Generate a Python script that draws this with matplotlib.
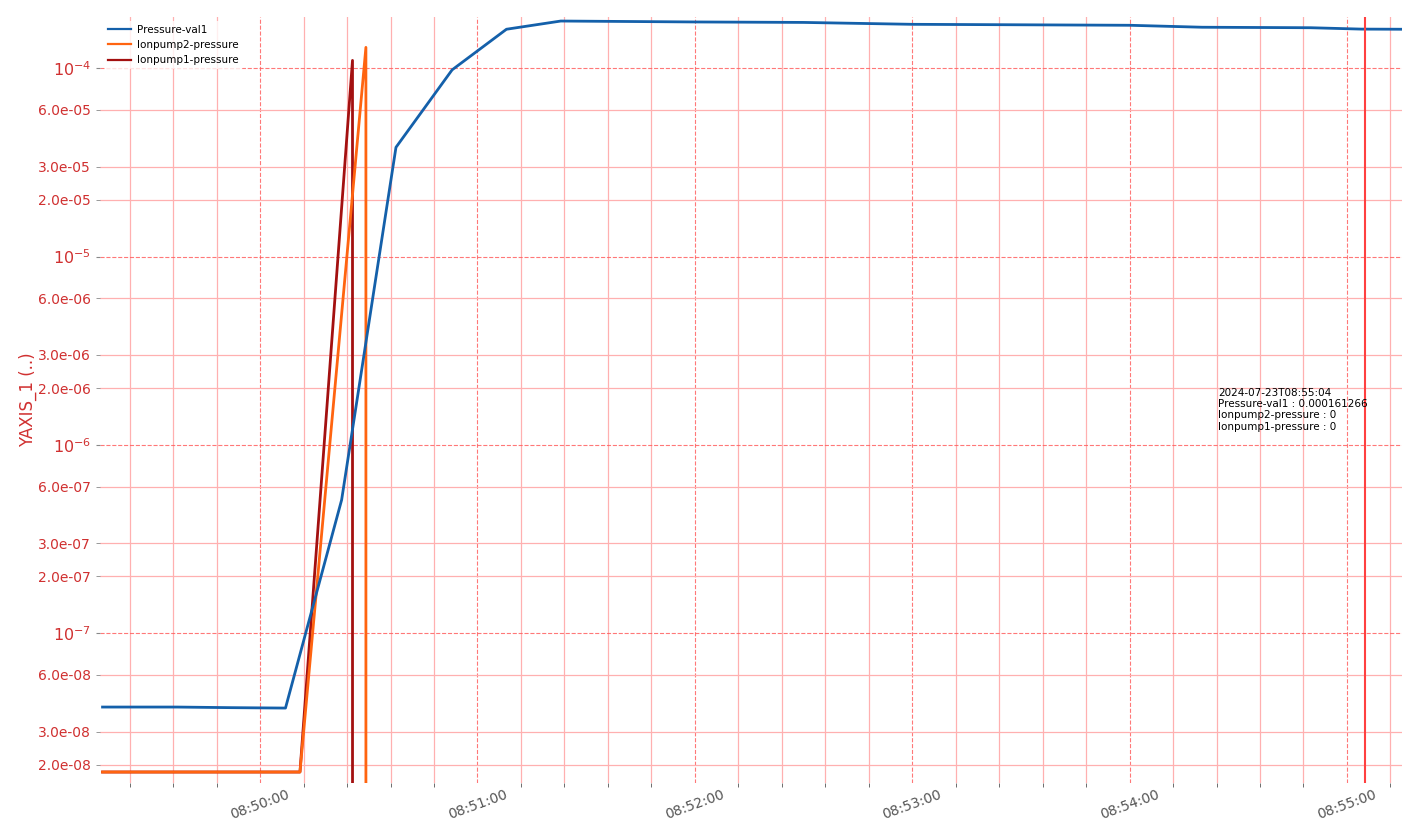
import matplotlib
matplotlib.use('Agg')
import matplotlib.pyplot as plt
import matplotlib.dates as mdates
from matplotlib.ticker import FuncFormatter, LogLocator, LogFormatterSciNotation
import pandas as pd

DAY = "2024-07-23 "

# ----------------- Data -----------------
pressure_times = ["08:49:16.5", "08:49:37", "08:49:52", "08:50:07", "08:50:22.5", "08:50:37.5",
                  "08:50:53", "08:51:08", "08:51:23", "08:52:00", "08:52:30", "08:53:00",
                  "08:53:30", "08:54:00", "08:54:20", "08:54:50", "08:55:04", "08:55:15"]
pressure_vals = [4.05e-8, 4.05e-8, 4.02e-8, 4.0e-8, 5.1e-7, 3.8e-5,
                 9.8e-5, 1.61e-4, 1.78e-4, 1.76e-4, 1.75e-4, 1.71e-4,
                 1.70e-4, 1.69e-4, 1.65e-4, 1.64e-4, 1.61266e-4, 1.61e-4]

ionpump2_times = ["08:49:16.5", "08:50:11", "08:50:29.2", "08:50:30", "08:55:15"]
ionpump2_vals = [1.83e-8, 1.83e-8, 1.29e-4, 0.0, 0.0]

ionpump1_times = ["08:49:16.5", "08:50:11", "08:50:25.5", "08:50:26.5", "08:55:15"]
ionpump1_vals = [1.83e-8, 1.83e-8, 1.10e-4, 0.0, 0.0]

cursor_time = "08:55:05"
cursor_label = ["2024-07-23T08:55:04",
                "Pressure-val1 : 0.000161266",
                "Ionpump2-pressure : 0",
                "Ionpump1-pressure : 0"]

x_range = ["08:49:15.8", "08:55:15.2"]
y_range = [1.6e-8, 1.87e-4]


def to_dt(ts):
    return pd.to_datetime([DAY + t for t in ts], format='mixed')


# ----------------- Figure -----------------
fig = plt.figure(figsize=(14.02, 8.34), dpi=100)
ax = fig.add_axes([100 / 1402, 1 - 783 / 834, 1 - 100 / 1402, (783 - 17) / 834])

ax.plot(to_dt(pressure_times), pressure_vals, color='#1460aa', lw=2, label='Pressure-val1', zorder=4)
ax.plot(to_dt(ionpump2_times), ionpump2_vals, color='#ff6410', lw=2, label='Ionpump2-pressure', zorder=3.5)
ax.plot(to_dt(ionpump1_times), ionpump1_vals, color='#a31010', lw=2, label='Ionpump1-pressure', zorder=3)

ax.axvline(to_dt([cursor_time])[0], color='#ff4040', lw=1.5, zorder=5)

ax.set_yscale('log')
ax.set_xlim(to_dt(x_range))
ax.set_ylim(y_range)

# ticks
ax.xaxis.set_major_locator(mdates.MinuteLocator())
ax.xaxis.set_major_formatter(mdates.DateFormatter('%H:%M:%S'))
ax.xaxis.set_minor_locator(mdates.SecondLocator(bysecond=range(0, 60, 12)))
ax.yaxis.set_major_locator(LogLocator(base=10))
ax.yaxis.set_major_formatter(LogFormatterSciNotation())
ax.yaxis.set_minor_locator(LogLocator(base=10, subs=[2, 3, 6]))
ax.yaxis.set_minor_formatter(FuncFormatter(lambda v, p: f"{v:.1e}"))

for lab in ax.get_xticklabels():
    lab.set_rotation(20)
ax.tick_params(axis='x', which='both', colors='#555555', labelsize=10, length=3)
ax.tick_params(axis='x', which='major', length=0)
ax.tick_params(axis='y', which='major', colors='#888888', labelcolor='#d03030', labelsize=11.5, length=3)
ax.tick_params(axis='y', which='minor', colors='#888888', labelcolor='#d03030', labelsize=10, length=3)

ax.grid(which='major', axis='both', color='#ff6060', ls='--', lw=0.8, alpha=0.85)
ax.grid(which='minor', axis='both', color='#ffb0b0', ls='-', lw=0.9)

for s in ax.spines.values():
    s.set_visible(False)

ax.set_ylabel('YAXIS_1 (..)', color='#d03030', fontsize=12)
ax.yaxis.set_label_coords(-0.048, 0.5)

leg = ax.legend(loc='upper left', bbox_to_anchor=(0.0, 1.0), fontsize=7.5, frameon=True,
                handlelength=2.2, handletextpad=0.6, framealpha=0.8, edgecolor='none',
                borderaxespad=0.35)
for h in leg.get_lines():
    h.set_linewidth(1.6)

fig.text(1218 / 1402, 1 - 388 / 834, "\n".join(cursor_label), fontsize=7.5, va='top',
         ha='left', linespacing=1.15, color='black')

plt.savefig('out.png', dpi=100)
plt.close()
